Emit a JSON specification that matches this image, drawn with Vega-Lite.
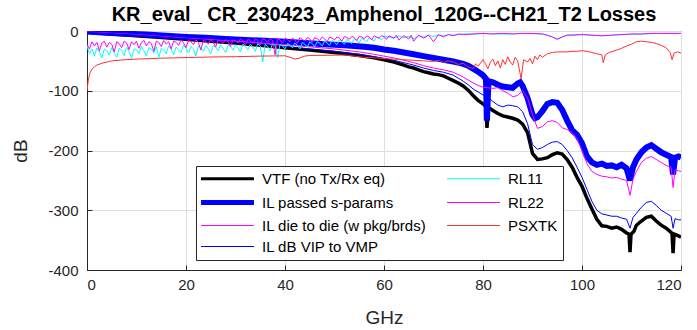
{
  "$schema": "https://vega.github.io/schema/vega-lite/v6.json",
  "width": 594,
  "height": 239,
  "autosize": {"type": "none"},
  "padding": {"left": 87, "top": 31, "right": 16, "bottom": 60},
  "background": "white",
  "title": {"text": "KR_eval_ CR_230423_Amphenol_120G--CH21_T2 Losses", "font": "Liberation Sans", "fontSize": 20, "fontWeight": "bold", "color": "black", "anchor": "middle", "offset": -1},
  "config": {
    "view": {"stroke": "#262626", "strokeWidth": 1},
    "axis": {"labelFont": "Liberation Sans", "labelFontSize": 15, "labelColor": "#262626", "titleFont": "Liberation Sans", "titleFontSize": 19, "titleFontWeight": "normal", "titleColor": "#262626", "gridColor": "#dfdfdf", "domainColor": "#262626", "tickColor": "#262626", "tickSize": -5},
    "axisX": {"labelPadding": 12, "titlePadding": 16},
    "axisY": {"labelPadding": 14, "titlePadding": 17}
  },
  "datasets": {
    "vtf": [{"f":0,"v":-2},{"f":5,"v":-5},{"f":10,"v":-8},{"f":15,"v":-11},{"f":20,"v":-14},{"f":25,"v":-17},{"f":30,"v":-20},{"f":35,"v":-24},{"f":40,"v":-28},{"f":45,"v":-32},{"f":50,"v":-36},{"f":55,"v":-41},{"f":58,"v":-45},{"f":60,"v":-48},{"f":62,"v":-52},{"f":64,"v":-57},{"f":65,"v":-60},{"f":66,"v":-62},{"f":67,"v":-65},{"f":68,"v":-68},{"f":69,"v":-70},{"f":70,"v":-72},{"f":71,"v":-73},{"f":72,"v":-75},{"f":73,"v":-79},{"f":74,"v":-83},{"f":75,"v":-87},{"f":76,"v":-92},{"f":77,"v":-99},{"f":78,"v":-108},{"f":79,"v":-116},{"f":80,"v":-122},{"f":80.6,"v":-126},{"f":80.8,"v":-162},{"f":81.1,"v":-128},{"f":82,"v":-133},{"f":83,"v":-138},{"f":84,"v":-142},{"f":85,"v":-144},{"f":86,"v":-146},{"f":87,"v":-149},{"f":88,"v":-156},{"f":89,"v":-170},{"f":90,"v":-205},{"f":91,"v":-215},{"f":92,"v":-214},{"f":93,"v":-212},{"f":94,"v":-207},{"f":95,"v":-204},{"f":96,"v":-206},{"f":97,"v":-215},{"f":98,"v":-228},{"f":99,"v":-245},{"f":100,"v":-260},{"f":101,"v":-280},{"f":102,"v":-298},{"f":103,"v":-315},{"f":104,"v":-326},{"f":105,"v":-327},{"f":106,"v":-330},{"f":107,"v":-328},{"f":108,"v":-332},{"f":109,"v":-338},{"f":109.5,"v":-340},{"f":109.7,"v":-370},{"f":109.9,"v":-340},{"f":110.5,"v":-335},{"f":111,"v":-325},{"f":112,"v":-318},{"f":113,"v":-312},{"f":114,"v":-310},{"f":115,"v":-318},{"f":116,"v":-325},{"f":117,"v":-330},{"f":118,"v":-337},{"f":118.2,"v":-340},{"f":118.4,"v":-372},{"f":118.6,"v":-340},{"f":119.5,"v":-343},{"f":120,"v":-345}],
    "ilp": [{"f":0,"v":-1},{"f":4,"v":-3},{"f":8,"v":-4.5},{"f":12,"v":-6},{"f":16,"v":-8},{"f":20,"v":-10},{"f":24,"v":-11.5},{"f":28,"v":-13.5},{"f":32,"v":-15},{"f":36,"v":-16.5},{"f":40,"v":-18},{"f":44,"v":-20},{"f":48,"v":-22},{"f":52,"v":-24},{"f":56,"v":-26.5},{"f":58,"v":-28},{"f":60,"v":-31},{"f":62,"v":-33},{"f":64,"v":-36},{"f":66,"v":-39},{"f":68,"v":-42},{"f":70,"v":-45},{"f":72,"v":-48},{"f":74,"v":-51},{"f":75,"v":-53},{"f":76,"v":-55},{"f":77,"v":-58},{"f":78,"v":-63},{"f":79,"v":-68},{"f":80,"v":-74},{"f":80.6,"v":-80},{"f":80.8,"v":-150},{"f":81.1,"v":-84},{"f":82,"v":-86},{"f":83,"v":-90},{"f":84,"v":-93},{"f":85,"v":-94},{"f":86,"v":-95},{"f":87,"v":-88},{"f":87.5,"v":-86},{"f":88,"v":-92},{"f":89,"v":-112},{"f":90,"v":-140},{"f":90.5,"v":-146},{"f":91,"v":-144},{"f":92,"v":-134},{"f":93,"v":-122},{"f":94,"v":-119},{"f":95,"v":-120},{"f":96,"v":-132},{"f":97,"v":-150},{"f":98,"v":-166},{"f":99,"v":-174},{"f":100,"v":-188},{"f":101,"v":-210},{"f":102,"v":-220},{"f":103,"v":-224},{"f":104,"v":-222},{"f":105,"v":-226},{"f":106,"v":-225},{"f":107,"v":-228},{"f":108,"v":-224},{"f":109,"v":-230},{"f":109.7,"v":-250},{"f":110.3,"v":-228},{"f":111,"v":-215},{"f":112,"v":-203},{"f":113,"v":-195},{"f":114,"v":-191},{"f":115,"v":-197},{"f":116,"v":-203},{"f":117,"v":-207},{"f":118,"v":-211},{"f":118.4,"v":-240},{"f":118.8,"v":-212},{"f":119.5,"v":-210},{"f":120,"v":-212}],
    "ild": [{"f":0,"v":-1.5},{"f":10,"v":-6},{"f":20,"v":-12},{"f":30,"v":-17},{"f":40,"v":-23},{"f":50,"v":-30},{"f":55,"v":-35},{"f":58,"v":-39},{"f":60,"v":-42},{"f":62,"v":-45},{"f":64,"v":-49},{"f":66,"v":-53},{"f":68,"v":-58},{"f":70,"v":-62},{"f":72,"v":-65},{"f":74,"v":-69},{"f":75,"v":-73},{"f":76,"v":-77},{"f":77,"v":-82},{"f":78,"v":-87},{"f":79,"v":-91},{"f":80,"v":-94},{"f":81,"v":-95},{"f":82,"v":-96},{"f":83,"v":-95},{"f":84,"v":-100},{"f":85,"v":-104},{"f":86,"v":-110},{"f":87,"v":-108},{"f":88,"v":-100},{"f":89,"v":-112},{"f":90,"v":-140},{"f":91,"v":-163},{"f":92,"v":-160},{"f":93,"v":-152},{"f":94,"v":-150},{"f":95,"v":-153},{"f":96,"v":-162},{"f":97,"v":-165},{"f":98,"v":-170},{"f":99,"v":-180},{"f":100,"v":-200},{"f":101,"v":-222},{"f":102,"v":-235},{"f":103,"v":-240},{"f":104,"v":-243},{"f":105,"v":-244},{"f":106,"v":-246},{"f":107,"v":-245},{"f":108,"v":-248},{"f":109,"v":-250},{"f":109.7,"v":-275},{"f":110.3,"v":-248},{"f":111,"v":-235},{"f":112,"v":-220},{"f":113,"v":-213},{"f":114,"v":-210},{"f":115,"v":-215},{"f":116,"v":-220},{"f":117,"v":-225},{"f":118,"v":-228},{"f":118.4,"v":-262},{"f":118.8,"v":-232},{"f":119.5,"v":-234},{"f":120,"v":-235}],
    "ilv": [{"f":0,"v":-2},{"f":10,"v":-7},{"f":20,"v":-13},{"f":30,"v":-19},{"f":40,"v":-26},{"f":50,"v":-34},{"f":55,"v":-39},{"f":58,"v":-43},{"f":60,"v":-46},{"f":62,"v":-49},{"f":64,"v":-53},{"f":66,"v":-57},{"f":68,"v":-62},{"f":70,"v":-66},{"f":72,"v":-69},{"f":74,"v":-74},{"f":75,"v":-79},{"f":76,"v":-84},{"f":77,"v":-90},{"f":78,"v":-97},{"f":79,"v":-102},{"f":80,"v":-107},{"f":81,"v":-111},{"f":82,"v":-118},{"f":83,"v":-124},{"f":84,"v":-127},{"f":85,"v":-124},{"f":86,"v":-125},{"f":87,"v":-127},{"f":88,"v":-135},{"f":89,"v":-155},{"f":90,"v":-190},{"f":91,"v":-198},{"f":92,"v":-195},{"f":93,"v":-190},{"f":94,"v":-186},{"f":95,"v":-185},{"f":96,"v":-190},{"f":97,"v":-200},{"f":98,"v":-212},{"f":99,"v":-228},{"f":100,"v":-245},{"f":101,"v":-265},{"f":102,"v":-285},{"f":103,"v":-300},{"f":104,"v":-306},{"f":105,"v":-308},{"f":106,"v":-310},{"f":107,"v":-310},{"f":108,"v":-313},{"f":109,"v":-315},{"f":109.7,"v":-330},{"f":110.3,"v":-312},{"f":111,"v":-305},{"f":112,"v":-295},{"f":113,"v":-287},{"f":114,"v":-285},{"f":115,"v":-292},{"f":116,"v":-300},{"f":117,"v":-305},{"f":118,"v":-310},{"f":118.4,"v":-330},{"f":118.8,"v":-314},{"f":119.5,"v":-316},{"f":120,"v":-316}],
    "rl11": [{"f":0,"v":-25},{"f":0.5,"v":-38},{"f":1,"v":-30},{"f":1.5,"v":-42},{"f":2,"v":-28},{"f":2.5,"v":-35},{"f":3,"v":-45},{"f":3.5,"v":-30},{"f":4,"v":-33},{"f":4.5,"v":-40},{"f":5,"v":-28},{"f":5.5,"v":-36},{"f":6,"v":-44},{"f":6.5,"v":-29},{"f":7,"v":-32},{"f":7.5,"v":-41},{"f":8,"v":-27},{"f":8.5,"v":-34},{"f":9,"v":-46},{"f":9.5,"v":-30},{"f":10,"v":-31},{"f":10.5,"v":-38},{"f":11,"v":-26},{"f":11.5,"v":-33},{"f":12,"v":-42},{"f":12.5,"v":-28},{"f":13,"v":-30},{"f":13.5,"v":-37},{"f":14,"v":-26},{"f":14.5,"v":-44},{"f":15,"v":-29},{"f":15.5,"v":-32},{"f":16,"v":-38},{"f":16.5,"v":-25},{"f":17,"v":-30},{"f":17.5,"v":-40},{"f":18,"v":-27},{"f":18.5,"v":-31},{"f":19,"v":-36},{"f":19.5,"v":-24},{"f":20,"v":-29},{"f":20.5,"v":-37},{"f":21,"v":-26},{"f":21.5,"v":-30},{"f":22,"v":-42},{"f":22.5,"v":-25},{"f":23,"v":-28},{"f":23.5,"v":-34},{"f":24,"v":-24},{"f":24.5,"v":-30},{"f":25,"v":-38},{"f":25.5,"v":-25},{"f":26,"v":-27},{"f":26.5,"v":-33},{"f":27,"v":-23},{"f":27.5,"v":-29},{"f":28,"v":-36},{"f":28.5,"v":-24},{"f":29,"v":-26},{"f":29.5,"v":-32},{"f":30,"v":-23},{"f":30.5,"v":-28},{"f":31,"v":-35},{"f":31.5,"v":-22},{"f":32,"v":-26},{"f":32.5,"v":-31},{"f":33,"v":-22},{"f":33.5,"v":-27},{"f":34,"v":-34},{"f":34.5,"v":-21},{"f":35,"v":-25},{"f":35.5,"v":-52},{"f":36,"v":-22},{"f":36.5,"v":-26},{"f":37,"v":-33},{"f":37.5,"v":-21},{"f":38,"v":-24},{"f":38.5,"v":-45},{"f":39,"v":-22},{"f":39.5,"v":-25},{"f":40,"v":-30},{"f":40.5,"v":-21},{"f":41,"v":-23},{"f":41.5,"v":-28},{"f":42,"v":-20},{"f":42.5,"v":-24},{"f":43,"v":-30},{"f":43.5,"v":-19},{"f":44,"v":-22},{"f":44.5,"v":-27},{"f":45,"v":-18},{"f":45.5,"v":-21},{"f":46,"v":-26},{"f":46.5,"v":-18},{"f":47,"v":-20},{"f":47.5,"v":-25},{"f":48,"v":-17},{"f":48.5,"v":-20},{"f":49,"v":-24},{"f":49.5,"v":-16},{"f":50,"v":-19},{"f":50.5,"v":-23},{"f":51,"v":-15},{"f":51.5,"v":-18},{"f":52,"v":-22},{"f":52.5,"v":-14},{"f":53,"v":-17},{"f":53.5,"v":-21},{"f":54,"v":-13},{"f":54.5,"v":-16},{"f":55,"v":-20},{"f":55.5,"v":-12},{"f":56,"v":-15},{"f":56.5,"v":-18},{"f":57,"v":-11},{"f":57.5,"v":-14},{"f":58,"v":-17},{"f":58.5,"v":-10},{"f":59,"v":-12},{"f":59.5,"v":-15},{"f":60,"v":-9},{"f":61,"v":-10},{"f":62,"v":-12},{"f":63,"v":-8},{"f":64,"v":-11},{"f":65,"v":-9},{"f":66,"v":-13},{"f":67,"v":-8},{"f":68,"v":-10},{"f":69,"v":-7},{"f":70,"v":-9},{"f":71,"v":-7},{"f":72,"v":-8},{"f":73,"v":-6},{"f":74,"v":-7},{"f":75,"v":-6},{"f":76,"v":-5},{"f":78,"v":-5},{"f":80,"v":-4},{"f":84,"v":-5},{"f":88,"v":-4},{"f":92,"v":-5},{"f":93,"v":-7},{"f":94,"v":-10},{"f":95,"v":-13},{"f":96,"v":-10},{"f":97,"v":-7},{"f":100,"v":-6},{"f":104,"v":-8},{"f":108,"v":-6},{"f":112,"v":-5},{"f":116,"v":-4},{"f":120,"v":-4}],
    "rl22": [{"f":0,"v":-22},{"f":0.5,"v":-30},{"f":1,"v":-18},{"f":1.5,"v":-25},{"f":2,"v":-19},{"f":2.5,"v":-33},{"f":3,"v":-20},{"f":3.5,"v":-17},{"f":4,"v":-27},{"f":4.5,"v":-19},{"f":5,"v":-22},{"f":5.5,"v":-35},{"f":6,"v":-18},{"f":6.5,"v":-21},{"f":7,"v":-28},{"f":7.5,"v":-17},{"f":8,"v":-20},{"f":8.5,"v":-31},{"f":9,"v":-18},{"f":9.5,"v":-23},{"f":10,"v":-17},{"f":10.5,"v":-29},{"f":11,"v":-19},{"f":11.5,"v":-16},{"f":12,"v":-25},{"f":12.5,"v":-18},{"f":13,"v":-21},{"f":13.5,"v":-34},{"f":14,"v":-17},{"f":14.5,"v":-19},{"f":15,"v":-26},{"f":15.5,"v":-16},{"f":16,"v":-22},{"f":16.5,"v":-18},{"f":17,"v":-30},{"f":17.5,"v":-17},{"f":18,"v":-19},{"f":18.5,"v":-24},{"f":19,"v":-15},{"f":19.5,"v":-20},{"f":20,"v":-28},{"f":20.5,"v":-16},{"f":21,"v":-18},{"f":21.5,"v":-23},{"f":22,"v":-15},{"f":22.5,"v":-19},{"f":23,"v":-32},{"f":23.5,"v":-16},{"f":24,"v":-17},{"f":24.5,"v":-22},{"f":25,"v":-14},{"f":25.5,"v":-19},{"f":26,"v":-27},{"f":26.5,"v":-15},{"f":27,"v":-17},{"f":27.5,"v":-21},{"f":28,"v":-14},{"f":28.5,"v":-18},{"f":29,"v":-26},{"f":29.5,"v":-15},{"f":30,"v":-16},{"f":30.5,"v":-20},{"f":31,"v":-13},{"f":31.5,"v":-17},{"f":32,"v":-24},{"f":32.5,"v":-14},{"f":33,"v":-16},{"f":33.5,"v":-21},{"f":34,"v":-13},{"f":34.5,"v":-16},{"f":35,"v":-23},{"f":35.5,"v":-13},{"f":36,"v":-15},{"f":36.5,"v":-19},{"f":37,"v":-12},{"f":37.5,"v":-16},{"f":38,"v":-40},{"f":38.5,"v":-13},{"f":39,"v":-15},{"f":39.5,"v":-20},{"f":40,"v":-12},{"f":40.5,"v":-14},{"f":41,"v":-18},{"f":41.5,"v":-12},{"f":42,"v":-15},{"f":42.5,"v":-21},{"f":43,"v":-11},{"f":43.5,"v":-14},{"f":44,"v":-17},{"f":44.5,"v":-11},{"f":45,"v":-13},{"f":45.5,"v":-19},{"f":46,"v":-11},{"f":46.5,"v":-13},{"f":47,"v":-16},{"f":47.5,"v":-10},{"f":48,"v":-13},{"f":48.5,"v":-18},{"f":49,"v":-10},{"f":49.5,"v":-12},{"f":50,"v":-15},{"f":50.5,"v":-10},{"f":51,"v":-12},{"f":51.5,"v":-17},{"f":52,"v":-9},{"f":52.5,"v":-11},{"f":53,"v":-14},{"f":53.5,"v":-9},{"f":54,"v":-11},{"f":54.5,"v":-16},{"f":55,"v":-9},{"f":55.5,"v":-10},{"f":56,"v":-13},{"f":56.5,"v":-8},{"f":57,"v":-10},{"f":57.5,"v":-15},{"f":58,"v":-8},{"f":58.5,"v":-10},{"f":59,"v":-12},{"f":59.5,"v":-8},{"f":60,"v":-9},{"f":60.5,"v":-14},{"f":61,"v":-8},{"f":62,"v":-12},{"f":62.5,"v":-7},{"f":63,"v":-15},{"f":64,"v":-8},{"f":65,"v":-13},{"f":65.5,"v":-7},{"f":66,"v":-17},{"f":67,"v":-7},{"f":68,"v":-12},{"f":69,"v":-7},{"f":70,"v":-18},{"f":71,"v":-6},{"f":72,"v":-10},{"f":73,"v":-6},{"f":74,"v":-8},{"f":75,"v":-5},{"f":76,"v":-6},{"f":78,"v":-5},{"f":80,"v":-4},{"f":82,"v":-5},{"f":84,"v":-4},{"f":86,"v":-5},{"f":88,"v":-4},{"f":90,"v":-4},{"f":92,"v":-5},{"f":93,"v":-7},{"f":94,"v":-10},{"f":95,"v":-14},{"f":96,"v":-10},{"f":97,"v":-7},{"f":98,"v":-7},{"f":100,"v":-6},{"f":102,"v":-7},{"f":104,"v":-8},{"f":106,"v":-7},{"f":108,"v":-6},{"f":110,"v":-5},{"f":112,"v":-5},{"f":114,"v":-4},{"f":116,"v":-4},{"f":118,"v":-4},{"f":120,"v":-4}],
    "psx": [{"f":0,"v":-100},{"f":0.3,"v":-80},{"f":0.6,"v":-70},{"f":1,"v":-64},{"f":1.5,"v":-60},{"f":2,"v":-57},{"f":3,"v":-54},{"f":4,"v":-52},{"f":5,"v":-50},{"f":7,"v":-48.5},{"f":10,"v":-47},{"f":15,"v":-45.5},{"f":20,"v":-44.5},{"f":25,"v":-43.5},{"f":30,"v":-43},{"f":35,"v":-42},{"f":40,"v":-41.5},{"f":41,"v":-44},{"f":42,"v":-47},{"f":43,"v":-45},{"f":44,"v":-42},{"f":45,"v":-41},{"f":50,"v":-40.5},{"f":52,"v":-40},{"f":54,"v":-42},{"f":56,"v":-44},{"f":58,"v":-45},{"f":60,"v":-46},{"f":62,"v":-47},{"f":64,"v":-48},{"f":66,"v":-49},{"f":68,"v":-50},{"f":70,"v":-51},{"f":71,"v":-49},{"f":72,"v":-53},{"f":73,"v":-50},{"f":74,"v":-52},{"f":75,"v":-56},{"f":76,"v":-54},{"f":77,"v":-60},{"f":78,"v":-63},{"f":78.5,"v":-55},{"f":79,"v":-59},{"f":80,"v":-48},{"f":80.5,"v":-55},{"f":81,"v":-63},{"f":81.5,"v":-52},{"f":82,"v":-47},{"f":82.5,"v":-58},{"f":83,"v":-50},{"f":83.5,"v":-62},{"f":84,"v":-48},{"f":84.5,"v":-56},{"f":85,"v":-43},{"f":85.5,"v":-52},{"f":86,"v":-57},{"f":86.5,"v":-44},{"f":87,"v":-50},{"f":87.7,"v":-80},{"f":88.2,"v":-48},{"f":89,"v":-52},{"f":89.5,"v":-46},{"f":90,"v":-55},{"f":90.5,"v":-42},{"f":91,"v":-48},{"f":91.5,"v":-40},{"f":92,"v":-44},{"f":93,"v":-38},{"f":94,"v":-36},{"f":95,"v":-35},{"f":96,"v":-35},{"f":97,"v":-35},{"f":98,"v":-34},{"f":99,"v":-34},{"f":100,"v":-33},{"f":101,"v":-34},{"f":102,"v":-36},{"f":103,"v":-38},{"f":104,"v":-40},{"f":104.3,"v":-53},{"f":104.7,"v":-40},{"f":105.5,"v":-36},{"f":107,"v":-32},{"f":108,"v":-29},{"f":109,"v":-25},{"f":110,"v":-22},{"f":111,"v":-18},{"f":112,"v":-17},{"f":113,"v":-18},{"f":114,"v":-19},{"f":115,"v":-21},{"f":116,"v":-24},{"f":117,"v":-28},{"f":117.8,"v":-36},{"f":118.2,"v":-48},{"f":118.6,"v":-37},{"f":119.3,"v":-35},{"f":120,"v":-37}]
  },
  "encoding": {
    "x": {"field": "f", "type": "quantitative", "scale": {"domain": [0, 120], "nice": false}, "axis": {"title": "GHz", "values": [0, 20, 40, 60, 80, 100, 120]}},
    "y": {"field": "v", "type": "quantitative", "scale": {"domain": [-400, 0], "nice": false}, "axis": {"title": "dB", "values": [-400, -300, -200, -100, 0], "labelExpr": "'' + datum.value"}}
  },
  "layer": [
    {"data": {"name": "vtf"}, "mark": {"type": "line", "strokeWidth": 3.5, "clip": true},
     "encoding": {"color": {"datum": "VTF (no Tx/Rx eq)", "type": "nominal",
       "scale": {"domain": ["VTF (no Tx/Rx eq)", "IL passed s-params", "IL die to die (w pkg/brds)", "IL dB VIP to VMP", "RL11", "RL22", "PSXTK"], "range": ["#000000", "#0000ff", "#ff00ff", "#0000ff", "#00ffff", "#ff00ff", "#ff3030"]},
       "legend": {"orient": "none", "legendX": 109, "legendY": 135, "columns": 2, "title": null, "fillColor": "white", "strokeColor": "#262626", "padding": 5, "symbolType": "stroke", "symbolSize": 2800, "symbolStrokeWidth": 1, "symbolOffset": 19, "labelFont": "Liberation Sans", "labelFontSize": 15, "labelColor": "black", "labelOffset": 27, "rowPadding": 5, "columnPadding": 18, "labelLimit": 300,
         "encode": {"symbols": {"update": {"strokeWidth": {"signal": "datum.value == 'IL passed s-params' ? 5 : datum.value == 'VTF (no Tx/Rx eq)' ? 3 : 1"}}}}}}}},
    {"data": {"name": "ilp"}, "mark": {"type": "line", "strokeWidth": 6, "clip": true}, "encoding": {"color": {"datum": "IL passed s-params", "type": "nominal"}}},
    {"data": {"name": "ild"}, "mark": {"type": "line", "strokeWidth": 1, "clip": true}, "encoding": {"color": {"datum": "IL die to die (w pkg/brds)", "type": "nominal"}}},
    {"data": {"name": "ilv"}, "mark": {"type": "line", "strokeWidth": 1, "clip": true}, "encoding": {"color": {"datum": "IL dB VIP to VMP", "type": "nominal"}}},
    {"data": {"name": "rl11"}, "mark": {"type": "line", "strokeWidth": 1, "clip": true}, "encoding": {"color": {"datum": "RL11", "type": "nominal"}}},
    {"data": {"name": "rl22"}, "mark": {"type": "line", "strokeWidth": 1, "clip": true}, "encoding": {"color": {"datum": "RL22", "type": "nominal"}}},
    {"data": {"name": "psx"}, "mark": {"type": "line", "strokeWidth": 1, "clip": true}, "encoding": {"color": {"datum": "PSXTK", "type": "nominal"}}}
  ]
}
